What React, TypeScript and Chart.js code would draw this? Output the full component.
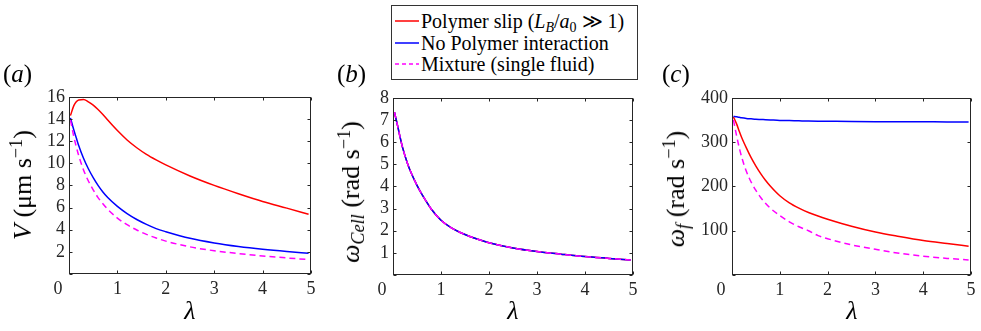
import React, { useEffect, useRef } from 'react';
import { Chart, registerables } from 'chart.js';

Chart.register(...registerables);

// ---------------- data ----------------
const lambda = [0.03, 0.1, 0.15, 0.2, 0.3, 0.4, 0.5, 0.6, 0.7, 0.8, 1.0, 1.2, 1.4, 1.6, 1.8, 2.0, 2.5, 3.0, 3.5, 4.0, 4.5, 4.95];

// (a) swimming speed V (µm/s)
const vSlip = [14.3, 15.2, 15.55, 15.72, 15.75, 15.55, 15.25, 14.85, 14.4, 13.9, 12.95, 12.1, 11.4, 10.8, 10.3, 9.85, 8.85, 8.0, 7.25, 6.55, 5.95, 5.4];
const vNoInt = [14.1, 13.0, 12.3, 11.6, 10.45, 9.5, 8.7, 8.0, 7.4, 6.9, 6.1, 5.45, 4.92, 4.48, 4.1, 3.82, 3.22, 2.8, 2.48, 2.23, 2.03, 1.88];
const vMix = [13.9, 12.4, 11.5, 10.7, 9.4, 8.4, 7.6, 6.9, 6.35, 5.85, 5.05, 4.45, 3.97, 3.58, 3.25, 2.97, 2.45, 2.1, 1.85, 1.63, 1.45, 1.3];

// (b) cell rotation rate (rad/s)
const wCellSlip = [7.35, 6.7, 6.2, 5.75, 5.05, 4.5, 4.05, 3.65, 3.3, 2.97, 2.47, 2.15, 1.92, 1.74, 1.59, 1.46, 1.22, 1.06, 0.94, 0.83, 0.75, 0.68];
const wCellNoInt = [7.35, 6.7, 6.2, 5.75, 5.05, 4.5, 4.05, 3.65, 3.3, 2.97, 2.47, 2.15, 1.92, 1.74, 1.59, 1.46, 1.22, 1.06, 0.94, 0.83, 0.75, 0.68];
const wCellMix = [7.35, 6.7, 6.2, 5.75, 5.05, 4.5, 4.05, 3.65, 3.3, 2.97, 2.47, 2.15, 1.92, 1.74, 1.59, 1.46, 1.22, 1.06, 0.94, 0.83, 0.75, 0.68];

// (c) flagellum rotation rate (rad/s)
const wfSlip = [357, 340, 325, 311, 287, 265, 246, 229, 214, 201, 179, 163, 151, 141, 133, 126, 110, 97, 87, 78, 71, 65];
const wfNoInt = [358, 357, 356, 355, 353.5, 352.5, 351.5, 351, 350.5, 350, 349, 348.5, 348, 347.5, 347.2, 347, 346.5, 346.2, 346, 345.8, 345.6, 345.5];
const wfMix = [350, 312, 288, 267, 234, 210, 191, 175, 162, 151, 134, 120, 109, 100, 89, 82, 68, 58, 49, 42.5, 37.5, 34];

const xTicks = [0, 1, 2, 3, 4, 5];
const seriesNames = ['Polymer slip', 'No Polymer interaction', 'Mixture (single fluid)'];
const RED = '#ff0000';
const BLUE = '#0000ff';
const MAGENTA = '#ff00ff';

const FONT = '"Liberation Serif", Tinos, "Times New Roman", "DejaVu Serif", serif';
const TICK_SIZE = 18;
const TICK_PAD = 4;
const AXIS_COLOR = '#262626';

// ---------------- helpers ----------------
const pts = (ys: number[]) => lambda.map((l, i) => ({ x: l, y: ys[i] }));

const matlabBox = {
  id: 'matlabBox',
  afterDraw(chart: any) {
    const { ctx, chartArea: a, scales } = chart;
    const x = scales.x;
    const y = scales.y;
    ctx.save();
    ctx.strokeStyle = AXIS_COLOR;
    ctx.lineWidth = 1;
    const L = Math.round(a.left) + 0.5;
    const R = Math.round(a.right) - 0.5;
    const T = Math.round(a.top) + 0.5;
    const B = Math.round(a.bottom) - 0.5;
    ctx.strokeRect(L, T, R - L, B - T);
    const tl = 3;
    ctx.beginPath();
    x.ticks.forEach((t: any) => {
      const px = Math.round(x.getPixelForValue(t.value)) + 0.5;
      ctx.moveTo(px, B);
      ctx.lineTo(px, B - tl);
      ctx.moveTo(px, T);
      ctx.lineTo(px, T + tl);
    });
    y.ticks.forEach((t: any) => {
      const py = Math.round(y.getPixelForValue(t.value)) + 0.5;
      ctx.moveTo(L, py);
      ctx.lineTo(L + tl, py);
      ctx.moveTo(R, py);
      ctx.lineTo(R - tl, py);
    });
    ctx.stroke();
    // MATLAB-style "0" label placed at the lower-left corner
    ctx.fillStyle = AXIS_COLOR;
    ctx.font = `${TICK_SIZE}px ${FONT}`;
    ctx.textAlign = 'center';
    ctx.textBaseline = 'middle';
    ctx.fillText('0', a.left - 11, a.bottom + TICK_PAD + TICK_SIZE * 0.6);
    ctx.restore();
  },
};

type PanelProps = {
  left: number;
  top: number;
  right: number;
  bottom: number;
  slip: number[];
  noInt: number[];
  mix: number[];
  yMax: number;
  yStep: number;
};

const PAD_L = 60;
const PAD_T = 12;
const PAD_R = 12;
const PAD_B = 36;

function Panel(p: PanelProps) {
  const ref = useRef<HTMLCanvasElement>(null);
  const w = p.right - p.left + PAD_L + PAD_R;
  const h = p.bottom - p.top + PAD_T + PAD_B;

  useEffect(() => {
    if (!ref.current) return;
    const line = (label: string, data: number[], color: string, order: number, dash: number[] = []) => ({
      label,
      data: pts(data),
      borderColor: color,
      backgroundColor: color,
      borderWidth: 1.5,
      borderDash: dash,
      pointRadius: 0,
      fill: false,
      cubicInterpolationMode: 'monotone' as const,
      order,
    });
    const chart = new Chart(ref.current, {
      type: 'line',
      data: {
        datasets: [
          line(seriesNames[0], p.slip, RED, 2),
          line(seriesNames[1], p.noInt, BLUE, 1),
          line(seriesNames[2], p.mix, MAGENTA, 0, [6, 4]),
        ],
      },
      options: {
        responsive: false,
        animation: false,
        events: [],
        layout: { padding: { left: 0, top: PAD_T, right: PAD_R, bottom: 0 } },
        plugins: { legend: { display: false }, tooltip: { enabled: false }, title: { display: false } },
        scales: {
          x: {
            type: 'linear',
            min: 0,
            max: 5,
            afterFit: (s: any) => {
              s.height = PAD_B;
            },
            afterBuildTicks: (s: any) => {
              s.ticks = xTicks.map((v) => ({ value: v }));
            },
            grid: { display: false, drawTicks: false },
            border: { display: false },
            ticks: {
              autoSkip: false,
              padding: TICK_PAD,
              color: AXIS_COLOR,
              font: { family: FONT, size: TICK_SIZE },
              maxRotation: 0,
              callback: (v: any) => (v === 0 ? '' : String(v)),
            },
          },
          y: {
            type: 'linear',
            min: 0,
            max: p.yMax,
            afterFit: (s: any) => {
              s.width = PAD_L;
            },
            grid: { display: false, drawTicks: false },
            border: { display: false },
            ticks: {
              autoSkip: false,
              stepSize: p.yStep,
              padding: TICK_PAD,
              color: AXIS_COLOR,
              font: { family: FONT, size: TICK_SIZE },
              callback: (v: any) => (v === 0 ? '' : String(v)),
            },
          },
        },
      },
      plugins: [matlabBox],
    } as any);
    return () => chart.destroy();
  }, []);

  return (
    <canvas
      ref={ref}
      width={w}
      height={h}
      style={{ position: 'absolute', left: p.left - PAD_L, top: p.top - PAD_T, width: w, height: h }}
    />
  );
}

const textBase: React.CSSProperties = {
  position: 'absolute',
  fontFamily: FONT,
  color: '#000',
  whiteSpace: 'nowrap',
  lineHeight: 1,
};

const Sup = ({ children }: { children: React.ReactNode }) => (
  <span style={{ fontSize: '0.7em', position: 'relative', top: '-0.5em' }}>{children}</span>
);
const Sub = ({ children }: { children: React.ReactNode }) => (
  <span style={{ fontSize: '0.7em', position: 'relative', top: '0.3em' }}>{children}</span>
);

function YTitle({ cx, cy, children }: { cx: number; cy: number; children: React.ReactNode }) {
  return (
    <div
      style={{
        ...textBase,
        fontSize: 26,
        left: cx,
        top: cy,
        transform: 'translate(-50%, -50%) rotate(-90deg)',
      }}
    >
      {children}
    </div>
  );
}

function XTitle({ cx, cy }: { cx: number; cy: number }) {
  return (
    <div style={{ ...textBase, fontSize: 26, left: cx, top: cy, transform: 'translate(-50%, -50%)' }}>
      <i>λ</i>
    </div>
  );
}

function PanelLabel({ x, cy, letter }: { x: number; cy: number; letter: string }) {
  return (
    <div style={{ ...textBase, fontSize: 25, left: x, top: cy, transform: 'translateY(-50%)' }}>
      (<i>{letter}</i>)
    </div>
  );
}

function LegendRow({ y, color, dashed, children }: { y: number; color: string; dashed?: boolean; children: React.ReactNode }) {
  return (
    <div style={{ position: 'absolute', left: 0, top: y, height: 0 }}>
      <svg width={26} height={4} style={{ position: 'absolute', left: 2, top: -2 }}>
        <line
          x1={1}
          y1={2}
          x2={25}
          y2={2}
          stroke={color}
          strokeWidth={1.5}
          strokeDasharray={dashed ? '4 3' : undefined}
        />
      </svg>
      <div style={{ ...textBase, fontSize: 20, left: 29, top: 0, transform: 'translateY(-50%)' }}>{children}</div>
    </div>
  );
}

export default function App() {
  return (
    <div style={{ position: 'absolute', left: 0, top: 0, width: 981, height: 331, background: '#fff', overflow: 'hidden' }}>
      <Panel left={69} top={94} right={311} bottom={274} slip={vSlip} noInt={vNoInt} mix={vMix} yMax={16} yStep={2} />
      <Panel left={393} top={95} right={633} bottom={275} slip={wCellSlip} noInt={wCellNoInt} mix={wCellMix} yMax={8} yStep={1} />
      <Panel left={732} top={95} right={971} bottom={275} slip={wfSlip} noInt={wfNoInt} mix={wfMix} yMax={400} yStep={100} />

      <PanelLabel x={3} cy={73} letter="a" />
      <PanelLabel x={337} cy={73} letter="b" />
      <PanelLabel x={662} cy={73} letter="c" />

      <YTitle cx={23} cy={185}>
        <i>V</i> (μm s<Sup>−1</Sup>)
      </YTitle>
      <YTitle cx={351} cy={192}>
        <i>ω</i>
        <Sub>
          <i>Cell</i>
        </Sub>{' '}
        (rad s<Sup>−1</Sup>)
      </YTitle>
      <YTitle cx={676} cy={189}>
        <i>ω</i>
        <Sub>
          <i>f</i>
        </Sub>{' '}
        (rad s<Sup>−1</Sup>)
      </YTitle>

      <XTitle cx={190} cy={311} />
      <XTitle cx={513} cy={311} />
      <XTitle cx={852} cy={311} />

      <div
        style={{
          position: 'absolute',
          left: 391,
          top: 5,
          width: 247,
          height: 75,
          border: '1px solid #333',
          background: '#fff',
          boxSizing: 'border-box',
        }}
      >
        <LegendRow y={15} color={RED}>
          Polymer slip (<i>L</i>
          <Sub>
            <i>B</i>
          </Sub>
          /<i>a</i>
          <Sub>0</Sub> ≫ 1)
        </LegendRow>
        <LegendRow y={37} color={BLUE}>
          No Polymer interaction
        </LegendRow>
        <LegendRow y={58} color={MAGENTA} dashed>
          Mixture (single fluid)
        </LegendRow>
      </div>
    </div>
  );
}
